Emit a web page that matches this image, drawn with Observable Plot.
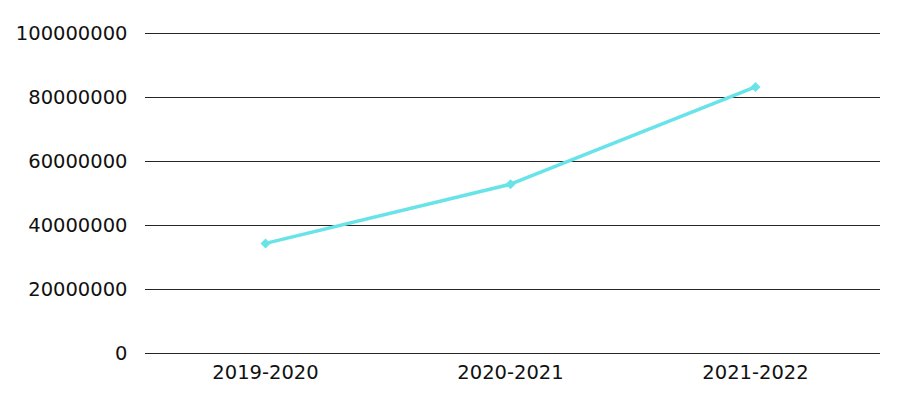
<!DOCTYPE html>
<html>
<head>
<meta charset="utf-8">
<script src="https://cdn.jsdelivr.net/npm/d3@7"></script>
<script src="https://cdn.jsdelivr.net/npm/@observablehq/plot@0.6"></script>
<style>
  html, body { margin: 0; padding: 0; background: #fff; }
  #chart svg { display: block; }
</style>
</head>
<body>
<div id="chart"></div>
<script>
const categories = ["2019-2020", "2020-2021", "2021-2022"];
const values = [34400000, 52900000, 83300000];
const yTicks = [0, 20000000, 40000000, 60000000, 80000000, 100000000];

const data = categories.map((c, i) => ({category: c, value: values[i]}));

const chart = Plot.plot({
  width: 903,
  height: 400,
  marginLeft: 145,
  marginRight: 23,
  marginTop: 33,
  marginBottom: 47,
  style: {fontFamily: "'DejaVu Sans', sans-serif", fontSize: "19.5px", color: "#111", background: "#fff"},
  x: {type: "point", domain: categories, padding: 0.5, align: 0.49, label: null, tickSize: 0, tickPadding: 12},
  y: {domain: [0, 100000000], ticks: yTicks, label: null, tickSize: 0, tickPadding: 18, tickFormat: d => String(d)},
  marks: [
    Plot.ruleY(yTicks, {stroke: "#000", strokeWidth: 1, strokeOpacity: 0.85}),
    Plot.line(data, {x: "category", y: "value", stroke: "#68E3E8", strokeWidth: 3.5}),
    Plot.dot(data, {x: "category", y: "value", symbol: "diamond2", fill: "#68E3E8", stroke: "none", r: 4.5})
  ]
});
document.getElementById("chart").append(chart);
</script>
</body>
</html>
